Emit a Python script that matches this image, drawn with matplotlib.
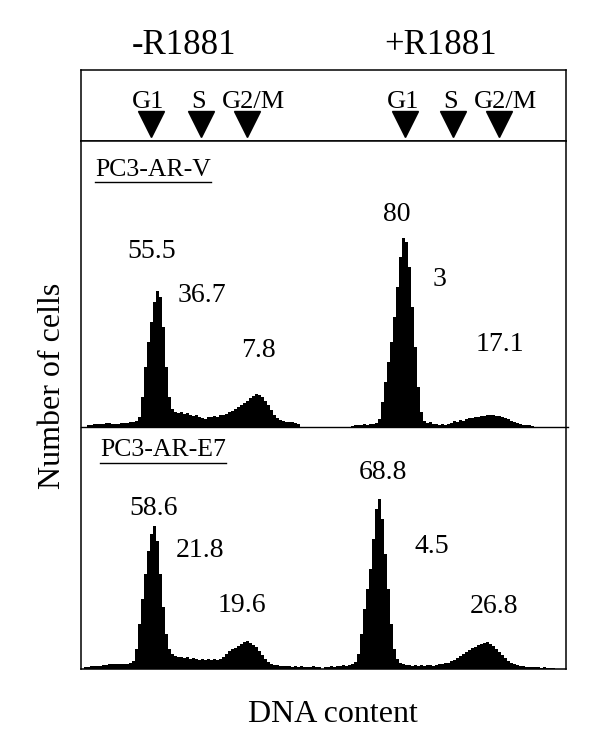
import numpy as np
import matplotlib
matplotlib.use("Agg")
import matplotlib.pyplot as plt

plt.rcParams["font.family"] = ["Liberation Serif", "DejaVu Serif"]

W, H = 600, 746

# ── Data ─────────────────────────────────────────────────────────────────────
conditions = ["-R1881", "+R1881"]
samples = ["PC3-AR-V", "PC3-AR-E7"]
phases = ["G1", "S", "G2/M"]

# DNA channel of the G1 / S / G2/M arrows for each condition
arrow_ch = [[23.2, 40.0, 55.3], [27.3, 43.0, 58.5]]

# cell-cycle percentages (G1, S, G2/M)
pct = {
    ("PC3-AR-V", "-R1881"): ["55.5", "36.7", "7.8"],
    ("PC3-AR-V", "+R1881"): ["80", "3", "17.1"],
    ("PC3-AR-E7", "-R1881"): ["58.6", "21.8", "19.6"],
    ("PC3-AR-E7", "+R1881"): ["68.8", "4.5", "26.8"],
}

# histograms: first channel and counts per channel
v_minus_start = 2
v_minus_counts = [2, 2, 3, 3, 3, 3, 4, 4, 3, 3, 3, 4, 4, 4, 5, 5, 6,
                  10, 30, 60, 85, 105, 125, 136, 130, 100, 60, 30, 18, 15, 14,
                  15, 13, 14, 12, 11, 12, 10, 9, 8, 10, 10, 11, 10, 12, 12, 13,
                  15, 16, 18, 20, 22, 24, 26, 29, 31, 33, 32, 30, 26, 22, 17,
                  12, 9, 7, 6, 5, 5, 5, 4, 3]
v_plus_start = 9
v_plus_counts = [1, 2, 2, 2, 3, 2, 3, 3, 4, 8, 25, 45, 65, 85, 110, 140, 170,
                 189, 185, 160, 120, 80, 40, 15, 6, 4, 5, 3, 3, 2, 3, 2, 3, 4,
                 6, 5, 7, 6, 8, 9, 9, 10, 10, 11, 11, 12, 12, 12, 11, 11, 10,
                 9, 8, 6, 5, 4, 3, 2, 2, 2, 1]
e7_minus_start = 1
e7_minus_counts = [2, 2, 3, 3, 3, 3, 4, 4, 5, 5, 5, 5, 5, 5, 5, 6, 8,
                   20, 45, 70, 95, 118, 135, 143, 128, 95, 62, 35, 20, 15, 13,
                   12, 12, 11, 12, 10, 11, 10, 9, 10, 9, 10, 9, 10, 9, 10, 12,
                   15, 18, 20, 21, 23, 25, 27, 28, 26, 24, 22, 18, 14, 10, 7,
                   5, 4, 4, 3, 3, 3, 3, 2, 3, 2, 3, 2, 2, 2, 3, 2, 2]
e7_plus_start = 0
e7_plus_counts = [2, 2, 3, 2, 3, 3, 4, 3, 4, 5, 7, 15, 35, 60, 80, 100, 130,
                  160, 170, 150, 115, 80, 45, 20, 10, 6, 5, 4, 4, 3, 4, 3, 4,
                  3, 4, 4, 3, 4, 5, 5, 6, 6, 8, 9, 11, 13, 15, 17, 19, 21, 22,
                  24, 25, 26, 27, 25, 23, 20, 17, 14, 11, 8, 6, 5, 4, 3, 3, 2,
                  2, 2, 2, 2, 1, 2, 1, 1, 1]

hists = {
    ("PC3-AR-V", "-R1881"): (v_minus_start, v_minus_counts),
    ("PC3-AR-V", "+R1881"): (v_plus_start, v_plus_counts),
    ("PC3-AR-E7", "-R1881"): (e7_minus_start, e7_minus_counts),
    ("PC3-AR-E7", "+R1881"): (e7_plus_start, e7_plus_counts),
}

# ── Layout (pixels) ──────────────────────────────────────────────────────────
BOX_L, BOX_R = 81, 566
TOP_Y0, TOP_Y1 = 70, 141
ROW_Y = [(141, 426.5), (426.5, 668.5)]
HALF = (BOX_R - BOX_L) / 2 / 3          # channels per half-panel (3 px / channel)

# label anchor points (channel, count) per panel
label_xy = {
    ("PC3-AR-V", "-R1881"): [(23.7, 175), (40.3, 131), (59.3, 76)],
    ("PC3-AR-V", "+R1881"): [(24.5, 212), (38.8, 147), (58.8, 82)],
    ("PC3-AR-E7", "-R1881"): [(24.3, 160), (39.7, 118), (53.7, 63)],
    ("PC3-AR-E7", "+R1881"): [(19.8, 196), (36.2, 122), (56.8, 62)],
}
sample_xy = [(4.6, 257), (6.3, 218)]

fig = plt.figure(figsize=(W / 100, H / 100), dpi=100)


def px_axes(x0, y0, x1, y1):
    return fig.add_axes([x0 / W, 1 - y1 / H, (x1 - x0) / W, (y1 - y0) / H])


# ── Arrow box ────────────────────────────────────────────────────────────────
ax_top = px_axes(BOX_L, TOP_Y0, BOX_R, TOP_Y1)
ax_top.set_xlim(0, 2 * HALF)
ax_top.set_ylim(0, TOP_Y1 - TOP_Y0)
ax_top.set_xticks([])
ax_top.set_yticks([])
for sp in ax_top.spines.values():
    sp.set_linewidth(1.1)
for j, chs in enumerate(arrow_ch):
    xs = [c + j * HALF for c in chs]
    ax_top.plot(xs, [17] * len(xs), linestyle="none", marker="v",
                markersize=19, color="black")
    for x, ph in zip(xs, phases):
        dx = 2.3 if ph == "G2/M" else -0.8
        ax_top.text(x + dx, 38.5, ph, ha="center", va="center", fontsize=19)

# ── Main box ─────────────────────────────────────────────────────────────────
ax_main = px_axes(BOX_L, TOP_Y1, BOX_R, 669)
ax_main.set_xticks([])
ax_main.set_yticks([])
for sp in ax_main.spines.values():
    sp.set_linewidth(1.1)
sep = (669 - 426.5) / (669 - TOP_Y1)
ax_main.plot([0, 1.005], [sep, sep], transform=ax_main.transAxes,
             color="black", linewidth=1.0, clip_on=False)

xmid = (BOX_L + BOX_R) / 2
for i, s in enumerate(samples):
    y0, y1 = ROW_Y[i]
    for j, c in enumerate(conditions):
        x0 = BOX_L if j == 0 else xmid
        ax = px_axes(x0, y0, x0 + (BOX_R - BOX_L) / 2, y1)
        ax.set_xlim(0, HALF)
        ax.set_ylim(0, y1 - y0)
        ax.axis("off")
        ax.patch.set_alpha(0)
        start, counts = hists[(s, c)]
        edges = np.arange(start, start + len(counts) + 1)
        ax.stairs(counts, edges, fill=True, color="black", baseline=0)
        for (lx, ly), t in zip(label_xy[(s, c)], pct[(s, c)]):
            ax.text(lx, ly, t, ha="center", va="center", fontsize=20)
        if j == 0:
            sx, sy = sample_xy[i]
            txt = ax.text(sx, sy, s, ha="left", va="center", fontsize=18.5)
            fig.canvas.draw()
            bb = txt.get_window_extent().transformed(ax.transData.inverted())
            ax.plot([bb.x0, bb.x1], [bb.y0 - 1, bb.y0 - 1], color="black",
                    linewidth=1.0)

# ── Outer labels ─────────────────────────────────────────────────────────────
fig.text(184 / W, 1 - 46 / H, conditions[0], ha="center", va="center", fontsize=25)
fig.text(441 / W, 1 - 46 / H, conditions[1], ha="center", va="center", fontsize=25)
fig.text(53 / W, 1 - 386 / H, "Number of cells", rotation=90,
         ha="center", va="center", fontsize=23)
fig.text(333 / W, 1 - 715 / H, "DNA content", ha="center", va="center", fontsize=23)

fig.savefig("out.png", dpi=100, facecolor="white")
